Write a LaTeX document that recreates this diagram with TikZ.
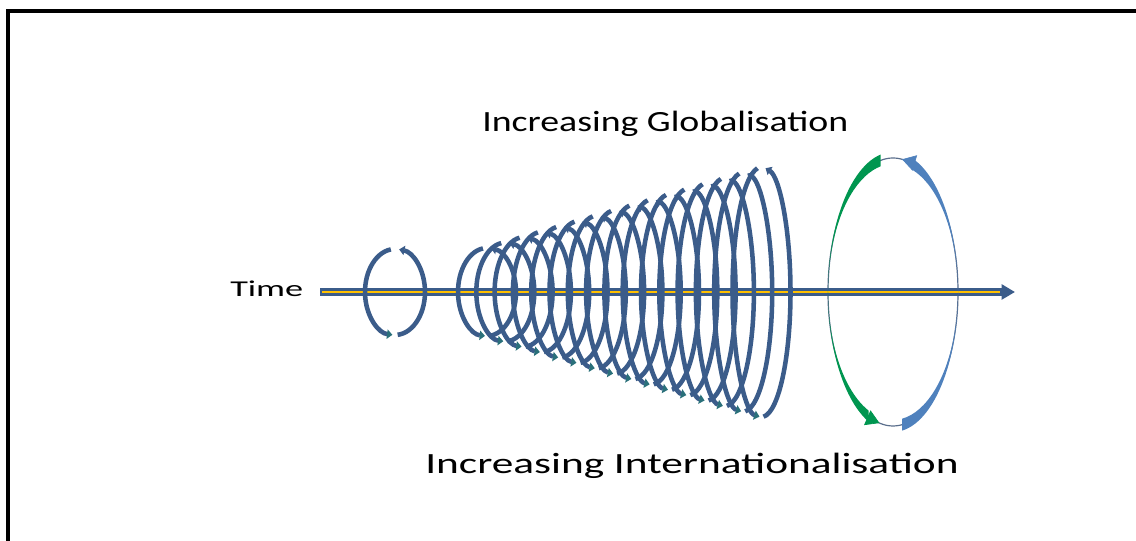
\documentclass[tikz,border=0pt]{standalone}
\usepackage{fontspec}
\setmainfont{Carlito}
\usepackage{graphicx}
\usepackage{tikz}
\usetikzlibrary{arrows.meta,calc}

\definecolor{coilblue}{RGB}{59,92,138}
\definecolor{tipteal}{RGB}{42,112,122}
\definecolor{gold}{RGB}{255,192,0}
\definecolor{sideblue}{RGB}{79,129,189}
\definecolor{sidegreen}{RGB}{0,150,80}
\definecolor{rimgray}{RGB}{90,110,140}

\tikzset{
    coil/.style={draw=coilblue, line width=3.4pt, -{Triangle[length=4pt,width=7pt]}},
    coildown/.style={draw=coilblue, line width=3.4pt, -{Triangle[length=4pt,width=7pt,color=tipteal]}},
    caption/.style={inner sep=0pt, anchor=base west, text=black},
}

\begin{document}
\begin{tikzpicture}[x=0.75pt,y=0.75pt]
        \useasboundingbox (0,0) rectangle (1136,541);
        % frame
        \draw [line width=2.4pt] (8,0) -- (8,530) -- (1136,530);
        % big turn, thin rim
        \coordinate (big) at (893,249);
        \draw [rimgray, line width=0.9pt] (big) ellipse [x radius=65, y radius=134];
        % time axis
        \node [caption] (time) at (230,244) {\resizebox{54.75pt}{\height}{\fontsize{17pt}{20pt}\selectfont Time}};
        \coordinate (tstart) at (320,249);
        \coordinate (tend) at (1015,249);
        \draw [coilblue, line width=5.5pt, -{Triangle[length=10pt,width=11pt]}] (tstart) -- (tend);
        \draw [gold, line width=2.2pt, shorten <=1.5pt, shorten >=11pt] (tstart) -- (tend);
        % small turn
        \draw [coildown] (395,249) ++(98:30 and 43) arc [start angle=98, end angle=265, x radius=30, y radius=43];
        \draw [coil] (395,249) ++(275:30 and 43) arc [start angle=275, end angle=442, x radius=30, y radius=43];
        % growing coil
        \foreach \i in {0,...,15} {
            \pgfmathsetmacro\cx{487+18.3*\i}
            \pgfmathsetmacro\ry{44+5.4*\i}
            \draw [coildown] (\cx,249) ++(98:29 and \ry) arc [start angle=98, end angle=266, x radius=29, y radius=\ry];
            \draw [coil] (\cx,249) ++(274:29 and \ry) arc [start angle=274, end angle=442, x radius=29, y radius=\ry];
        }
        % big turn, arrows
        \fill [sidegreen] (big) ++(101:65 and 140) arc [start angle=101, end angle=248, x radius=65, y radius=140]
            -- ($(big)+(248:65 and 128)$) arc [start angle=248, end angle=101, x radius=65, y radius=128] -- cycle;
        \draw [sidegreen, line width=0.5pt, -{Triangle[length=10pt,width=12pt]}] (big) ++(245:65 and 134) arc [start angle=245, end angle=258, x radius=65, y radius=134];
        \fill [sideblue] (big) ++(278:65 and 140) arc [start angle=278, end angle=432, x radius=65, y radius=140]
            -- ($(big)+(432:65 and 128)$) arc [start angle=432, end angle=278, x radius=65, y radius=128] -- cycle;
        \draw [sideblue, line width=0.5pt, -{Triangle[length=10pt,width=12pt]}] (big) ++(69:65 and 134) arc [start angle=69, end angle=82, x radius=65, y radius=134];
        % captions
        \node [caption] (glob) at (482,409) {\resizebox{274.5pt}{\height}{\fontsize{22pt}{26pt}\selectfont Increasing Globalisation}};
        \node [caption] (intl) at (425,67) {\resizebox{400pt}{\height}{\fontsize{22pt}{26pt}\selectfont Increasing Internationalisation}};
    \end{tikzpicture}
\end{document}
